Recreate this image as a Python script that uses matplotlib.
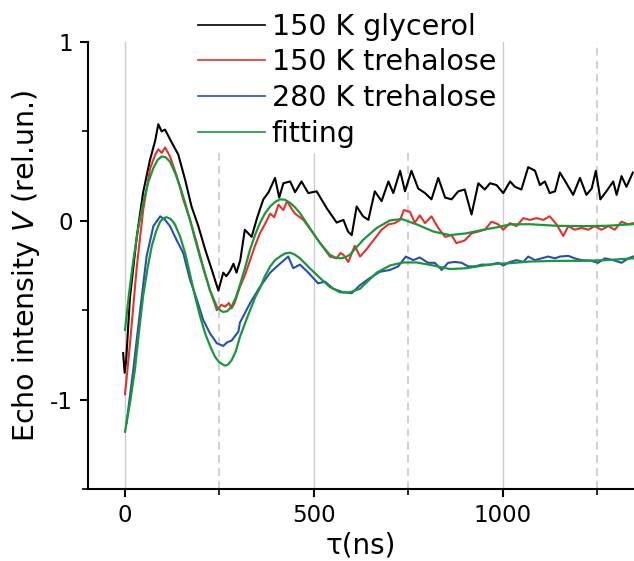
import matplotlib
matplotlib.use("Agg")
import matplotlib.pyplot as plt
from matplotlib.ticker import MultipleLocator

plt.rcParams["axes.unicode_minus"] = False

# ==========================================
# DATA
# ==========================================

glycerol_150_t = [-5, -1, 3, 13, 31, 48, 66, 80, 88, 97, 106, 123, 141, 159, 176, 194,
                  212, 229, 247, 260, 268, 278, 287, 295, 305, 317, 335, 350, 366, 380,
                  397, 408, 419, 437, 450, 467, 485, 507, 534, 560, 578, 590, 600, 613,
                  630, 644, 661, 679, 697, 710, 728, 741, 758, 776, 794, 811, 829, 847,
                  864, 882, 899, 917, 935, 952, 966, 983, 1001, 1019, 1032, 1049, 1067,
                  1085, 1098, 1111, 1124, 1138, 1151, 1168, 1186, 1204, 1221, 1235, 1246,
                  1258, 1274, 1292, 1301, 1314, 1327, 1344]
glycerol_150_v = [-0.74, -0.85, -0.78, -0.43, -0.09, 0.16, 0.34, 0.45, 0.54, 0.50, 0.51,
                  0.44, 0.37, 0.23, 0.08, -0.03, -0.16, -0.27, -0.39, -0.29, -0.31, -0.28,
                  -0.24, -0.29, -0.22, -0.05, -0.09, 0.02, 0.12, 0.16, 0.24, 0.13, 0.21,
                  0.22, 0.16, 0.22, 0.155, 0.165, 0.07, -0.01, 0.005, -0.06, -0.08, 0.08,
                  0.025, 0.005, 0.165, 0.11, 0.22, 0.155, 0.28, 0.165, 0.28, 0.18, 0.155,
                  0.12, 0.24, 0.13, 0.12, 0.165, 0.175, 0.035, 0.21, 0.175, 0.21, 0.20,
                  0.155, 0.22, 0.19, 0.175, 0.30, 0.28, 0.20, 0.22, 0.155, 0.165, 0.27,
                  0.21, 0.145, 0.24, 0.145, 0.18, 0.28, 0.12, 0.165, 0.22, 0.145, 0.25,
                  0.19, 0.27]

trehalose_150_t = [0, 13, 31, 48, 66, 80, 88, 97, 106, 119, 137, 154, 172, 190, 207, 225,
                   243, 255, 265, 275, 282, 290, 304, 318, 331, 344, 357, 370, 384, 395,
                   406, 419, 429, 440, 450, 472, 498, 525, 542, 560, 570, 578, 591, 608,
                   622, 639, 661, 679, 697, 714, 728, 738, 754, 767, 780, 794, 811, 829,
                   847, 864, 877, 899, 917, 935, 952, 970, 988, 1001, 1019, 1036, 1054,
                   1071, 1089, 1107, 1124, 1142, 1160, 1173, 1190, 1208, 1226, 1243, 1261,
                   1279, 1296, 1314, 1332, 1344]
trehalose_150_v = [-0.97, -0.69, -0.26, 0.06, 0.29, 0.37, 0.40, 0.38, 0.41, 0.36, 0.25,
                   0.12, 0.005, -0.125, -0.26, -0.39, -0.50, -0.47, -0.48, -0.46, -0.49,
                   -0.46, -0.37, -0.30, -0.22, -0.14, -0.07, -0.02, 0.04, 0.02, 0.09,
                   0.06, 0.11, 0.07, 0.04, 0.005, -0.07, -0.15, -0.20, -0.21, -0.18,
                   -0.19, -0.23, -0.14, -0.20, -0.16, -0.10, -0.05, -0.02, -0.013, 0.005,
                   0.06, 0.05, -0.01, 0.03, -0.013, 0.025, -0.04, -0.09, -0.08, -0.125,
                   -0.11, -0.07, -0.06, -0.05, -0.005, -0.02, -0.05, -0.013, -0.03, 0.015,
                   0.005, 0.015, 0.005, 0.025, -0.02, -0.085, -0.03, -0.05, -0.04, -0.05,
                   -0.03, -0.05, -0.03, -0.05, -0.005, -0.02, -0.013]

trehalose_280_t = [4, 22, 40, 57, 75, 93, 106, 119, 137, 154, 172, 190, 207, 225, 243, 260,
                   270, 282, 300, 304, 331, 357, 384, 410, 432, 445, 463, 485, 511, 529,
                   551, 578, 600, 622, 648, 675, 701, 723, 743, 763, 780, 802, 820, 838,
                   855, 873, 891, 908, 926, 944, 966, 988, 1001, 1019, 1036, 1054, 1067,
                   1085, 1102, 1120, 1138, 1151, 1173, 1190, 1208, 1230, 1252, 1270, 1292,
                   1314, 1332, 1344]
trehalose_280_v = [-1.13, -0.83, -0.50, -0.20, -0.03, 0.025, 0.005, -0.03, -0.11, -0.18,
                   -0.33, -0.44, -0.555, -0.63, -0.685, -0.70, -0.68, -0.67, -0.62, -0.57,
                   -0.46, -0.37, -0.29, -0.24, -0.20, -0.265, -0.245, -0.29, -0.35, -0.34,
                   -0.38, -0.40, -0.405, -0.36, -0.32, -0.285, -0.275, -0.255, -0.20,
                   -0.22, -0.205, -0.235, -0.235, -0.275, -0.235, -0.23, -0.235, -0.255,
                   -0.255, -0.245, -0.245, -0.235, -0.25, -0.23, -0.22, -0.23, -0.20,
                   -0.22, -0.21, -0.20, -0.21, -0.20, -0.196, -0.21, -0.22, -0.222,
                   -0.235, -0.21, -0.22, -0.235, -0.21, -0.20]

fit_150_t = [0, 11, 22, 35, 48, 62, 75, 86, 97, 108, 119, 132, 146, 159, 172, 185, 198,
             212, 225, 243, 252, 260, 271, 282, 293, 304, 318, 331, 344, 357, 370, 384,
             397, 410, 423, 437, 450, 463, 489, 516, 542, 556, 569, 582, 595, 630, 666,
             701, 732, 772, 816, 860, 904, 948, 988, 1019, 1071, 1142, 1212, 1274, 1344]
fit_150_v = [-0.61, -0.40, -0.22, -0.04, 0.10, 0.22, 0.295, 0.34, 0.36, 0.355, 0.33,
             0.27, 0.19, 0.10, 0.005, -0.10, -0.20, -0.30, -0.39, -0.48, -0.50, -0.51,
             -0.505, -0.48, -0.43, -0.36, -0.26, -0.16, -0.08, -0.013, 0.04, 0.08, 0.105,
             0.12, 0.118, 0.10, 0.075, 0.043, -0.04, -0.125, -0.19, -0.205, -0.21, -0.205,
             -0.19, -0.107, -0.04, 0.002, 0.01, -0.02, -0.06, -0.08, -0.07, -0.05, -0.035,
             -0.02, -0.019, -0.028, -0.03, -0.028, -0.019]

fit_280_t = [0, 13, 26, 37, 48, 60, 71, 82, 93, 102, 110, 121, 132, 146, 159, 172, 185,
             198, 212, 225, 238, 249, 260, 265, 272, 282, 293, 304, 318, 331, 344, 357,
             370, 384, 397, 410, 423, 437, 450, 463, 489, 516, 542, 569, 595, 622, 666,
             701, 736, 772, 816, 860, 904, 948, 988, 1019, 1071, 1142, 1212, 1274, 1344]
fit_280_v = [-1.18, -1.02, -0.835, -0.62, -0.42, -0.26, -0.14, -0.06, -0.004, 0.015,
             0.02, 0.01, -0.02, -0.09, -0.18, -0.30, -0.42, -0.53, -0.63, -0.70, -0.76,
             -0.79, -0.805, -0.81, -0.805, -0.78, -0.73, -0.65, -0.57, -0.50, -0.43,
             -0.377, -0.31, -0.256, -0.22, -0.20, -0.183, -0.178, -0.19, -0.21, -0.265,
             -0.32, -0.37, -0.40, -0.40, -0.38, -0.29, -0.25, -0.233, -0.233, -0.25,
             -0.27, -0.265, -0.25, -0.24, -0.237, -0.228, -0.224, -0.224, -0.22, -0.21]

labels = ["150 K glycerol", "150 K trehalose", "280 K trehalose", "fitting"]
colors = ["black", "#e8302a", "#2c4cb8", "#17993a"]

# ==========================================
# PLOT
# ==========================================

fig = plt.figure(figsize=(6.34, 5.61), dpi=100)
ax = fig.add_axes([88 / 634, 1 - 489 / 561, 546 / 634, 447 / 561])

ax.plot(glycerol_150_t, glycerol_150_v, color=colors[0], lw=1.5, label=labels[0])
ax.plot(trehalose_150_t, trehalose_150_v, color=colors[1], lw=1.5, label=labels[1])
ax.plot(trehalose_280_t, trehalose_280_v, color=colors[2], lw=1.5, label=labels[2])
ax.plot(fit_150_t, fit_150_v, color=colors[3], lw=1.6, label=labels[3])
ax.plot(fit_280_t, fit_280_v, color=colors[3], lw=1.6)

ax.set_xlim(-98, 1347)
ax.set_ylim(-1.5, 1)

ax.xaxis.set_major_locator(MultipleLocator(500))
ax.xaxis.set_minor_locator(MultipleLocator(250))
ax.yaxis.set_major_locator(MultipleLocator(1))
ax.yaxis.set_minor_locator(MultipleLocator(0.5))

ax.grid(axis="x", which="major", color="#cccccc", lw=1.0, ls="-")
ax.grid(axis="x", which="minor", color="#c4c4c4", lw=1.1, ls=(0, (5, 3.6)))
ax.set_axisbelow(True)

for side in ["top", "right"]:
    ax.spines[side].set_visible(False)
for side in ["left", "bottom"]:
    ax.spines[side].set_linewidth(1.5)

ax.tick_params(which="major", length=6, width=1.5, labelsize=16.5, pad=5)
ax.tick_params(which="minor", length=4, width=1.2)

ax.set_xlabel(r"τ(ns)", fontsize=20)
ax.xaxis.set_label_coords(0.5, -0.095)
ax.set_ylabel(r"Echo intensity $V$ (rel.un.)", fontsize=20.5)
ax.yaxis.set_label_coords(-0.085, 0.5)

leg = ax.legend(
    loc="upper left",
    bbox_to_anchor=(192 / 634, 1 - 7 / 561),
    bbox_transform=fig.transFigure,
    fontsize=20.5,
    frameon=True,
    facecolor="white",
    edgecolor="none",
    framealpha=1,
    fancybox=False,
    borderpad=0.2,
    borderaxespad=0,
    handlelength=2.35,
    handletextpad=0.25,
    labelspacing=0.27,
)
for line in leg.get_lines():
    line.set_linewidth(1.2)

fig.savefig("out.png", dpi=100)
